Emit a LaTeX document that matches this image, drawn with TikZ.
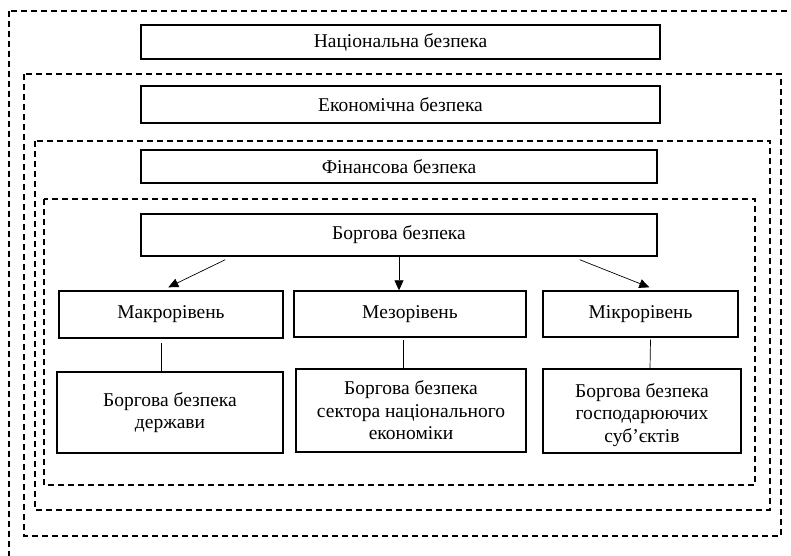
\documentclass[tikz,border=0pt]{standalone}
\usepackage{fontspec}
\setmainfont{Liberation Serif}
\usetikzlibrary{arrows.meta}

\begin{document}
\begin{tikzpicture}[x=1pt,y=-1pt]
		\useasboundingbox (0,0) rectangle (791,555);
		
		\begin{scope}[dash pattern=on 6pt off 4pt, line width=1.2pt]
		    \draw (9,11) rectangle (812,577);
		    \draw (24,74) rectangle (781,536);
		    \draw (35,141) rectangle (770,510);
		    \draw (44,199) rectangle (755,485);
		\end{scope}
		
		\begin{scope}[every node/.style={draw,line width=1.4pt,align=center,inner sep=0pt,
		              font=\fontsize{19.5}{22.5}\selectfont}]
		    \node[minimum width=519,minimum height=34] (nat) at (400.5,42) {Національна безпека};
		    \node[minimum width=519,minimum height=37] (econ) at (400.5,104.5) {Економічна безпека};
		    \node[minimum width=516,minimum height=33] (fin) at (399,166.5) {Фінансова безпека};
		    \node[minimum width=516,minimum height=42] (borg) at (399,235) {Боргова безпека};
		    \node[minimum width=224,minimum height=47] (makro) at (171,314.5) {Макрорівень};
		    \node[minimum width=232,minimum height=46] (mezo) at (410,314) {Мезорівень};
		    \node[minimum width=195,minimum height=46] (mikro) at (640.5,314) {Мікрорівень};
		    \node[minimum width=226,minimum height=81] (state) at (170,412.5) {Боргова безпека\\держави};
		    \node[minimum width=230,minimum height=83] (sector) at (411,410.5) {Боргова безпека\\сектора національного\\економіки};
		    \node[minimum width=198,minimum height=84] (firms) at (642,411) {\rule{0pt}{22pt}Боргова безпека\\господарюючих\\суб’єктів};
		\end{scope}
		
		\begin{scope}[>={Stealth[black,length=10pt,width=9pt,inset=0pt]},
		              every edge/.style={draw=black,line width=0.7pt}]
		    \path ([xshift=85,yshift=-3]borg.south west) edge[->] ([xshift=110,yshift=3]makro.north west);
		    \path (borg.south) edge[->] (borg.south |- mezo.north);
		    \path ([xshift=-78,yshift=-3]borg.south east) edge[->] ([xshift=107,yshift=3]mikro.north west);
		    \path ([xshift=-10,yshift=-4]makro.south) edge ([xshift=-9]state.north);
		    \path ([xshift=-7,yshift=-2]mezo.south) edge ([xshift=-8]sector.north);
		    \path ([xshift=10,yshift=-2]mikro.south) edge ([xshift=8]firms.north);
		\end{scope}
\end{tikzpicture}
\end{document}
